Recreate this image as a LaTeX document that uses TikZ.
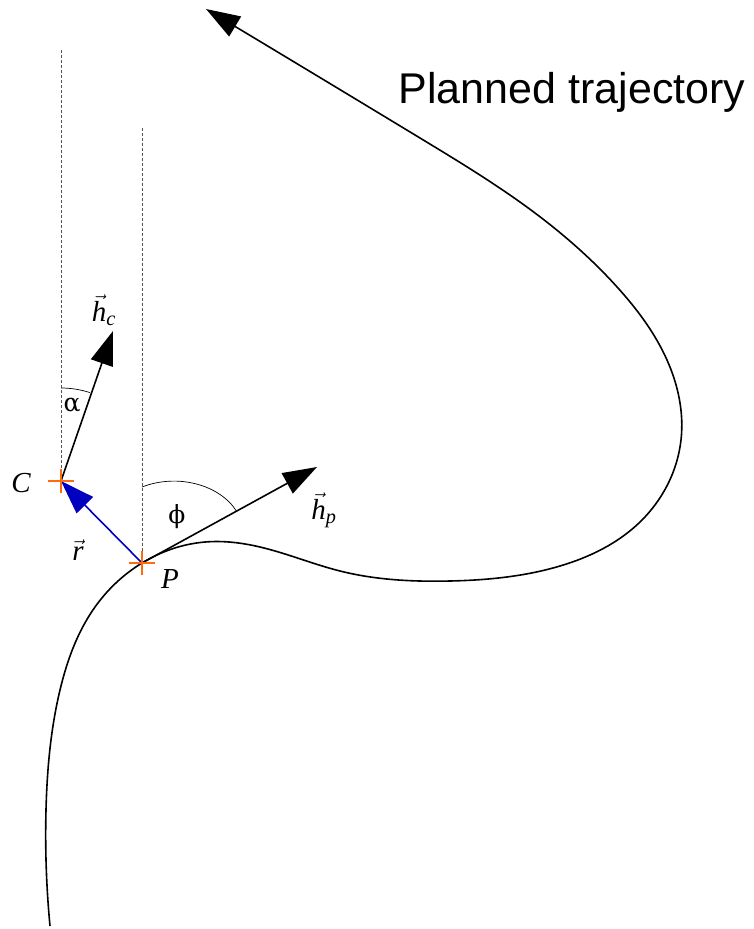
\documentclass[tikz,border=0pt]{standalone}
\usepackage{amsmath}
\usepackage{fontspec}
\setmainfont{Liberation Serif}
\newfontfamily\titlefont{Liberation Sans}
\newfontfamily\greekfont{DejaVu Serif}
\usetikzlibrary{arrows.meta,calc,hobby}
\definecolor{Ink}     {HTML}{000000}
\definecolor{GuideGrey}{HTML}{555555}
\definecolor{MarkOrange}{HTML}{FF6A10}
\definecolor{RadBlue} {HTML}{0000C0}

\newcommand{\itvec}[2]{$\vec{\text{\itshape #1}}_{\text{\itshape #2}}$}

\tikzset{
  bigtip/.style={-{Triangle[length=34pt,width=23pt]}},
  vecline/.style={line width=1.6pt, Ink, bigtip},
  guide/.style={GuideGrey, line width=0.8pt, dash pattern=on 3pt off 2pt},
  crossmark/.style={MarkOrange, line width=1.6pt},
  anglearc/.style={Ink, line width=0.7pt},
  lab/.style={font=\fontsize{29}{31}\selectfont\itshape, inner sep=0pt},
  smalllab/.style={font=\greekfont\fontsize{25}{27}\selectfont, inner sep=0pt}
}

\begin{document}
\begin{tikzpicture}[x=1pt, y=-1pt]

  % ===== CANVAS =====
  \fill[white] (0,0) rectangle (753,929);
  \useasboundingbox (0,0) rectangle (753,929);

  % ===== POINTS =====
  \coordinate (C)    at (61,481);
  \coordinate (P)    at (142,563);
  \coordinate (Ctop) at (61,50);
  \coordinate (Ptop) at (142,128);
  \coordinate (hc)   at (113,331);
  \coordinate (hp)   at (317,467);
  \coordinate (start) at (50,926);
  \coordinate (goal)  at (206,9);

  % ===== VERTICAL GUIDES =====
  \draw[guide] (Ctop) -- (C);
  \draw[guide] (Ptop) -- (P);

  % ===== PLANNED TRAJECTORY =====
  \draw[line width=1.6pt, Ink, bigtip, use Hobby shortcut]
        (start) .. (46,810) .. (60,690) .. (95,607) .. (P) .. (205,542)
        .. (260,547) .. (340,571) .. (450,581) .. (560,566) .. (640,522)
        .. (681,440) .. (667,360) .. (618,288) .. (535,213) .. (420,138)
        .. (goal);
  \node[font=\titlefont\fontsize{43}{46}\selectfont, inner sep=0pt]
        (title) at (572,92) {Planned trajectory};

  % ===== HEADING VECTORS =====
  \draw[vecline] (C) -- (hc);
  \draw[vecline] (P) -- (hp);
  \draw[line width=1.6pt, RadBlue, bigtip] (P) -- (C);

  % ===== ANGLES =====
  \draw[anglearc] ($(C)+(0,-93)$) arc[start angle=90, end angle=72, radius=93pt];
  \draw[anglearc] ($(P)+(0,-76)$) .. controls ($(P)+(36,-90)$) and ($(P)+(78,-78)$)
        .. ($(P)!0.54!(hp)$);

  % ===== CROSSES =====
  \foreach \pt in {C,P}{
    \draw[crossmark] (\pt) +(-13,0) -- +(13,0);
    \draw[crossmark] (\pt) +(0,-12) -- +(0,12);
  }

  % ===== LABELS =====
  \node[lab] (Clab)  at (21,483) {C};
  \node[lab] (Plab)  at (170,579) {P};
  \node[lab] (hclab) at (104,310) {\itvec{h}{c}};
  \node[lab] (hplab) at (324,510) {\itvec{h}{p}};
  \node[lab] (rlab)  at (78,550) {$\vec{\text{\itshape r}}$};
  \node[smalllab] (alab) at (72,405) {α};
  \node[smalllab] (plab) at (177,517) {ϕ};

\end{tikzpicture}
\end{document}
